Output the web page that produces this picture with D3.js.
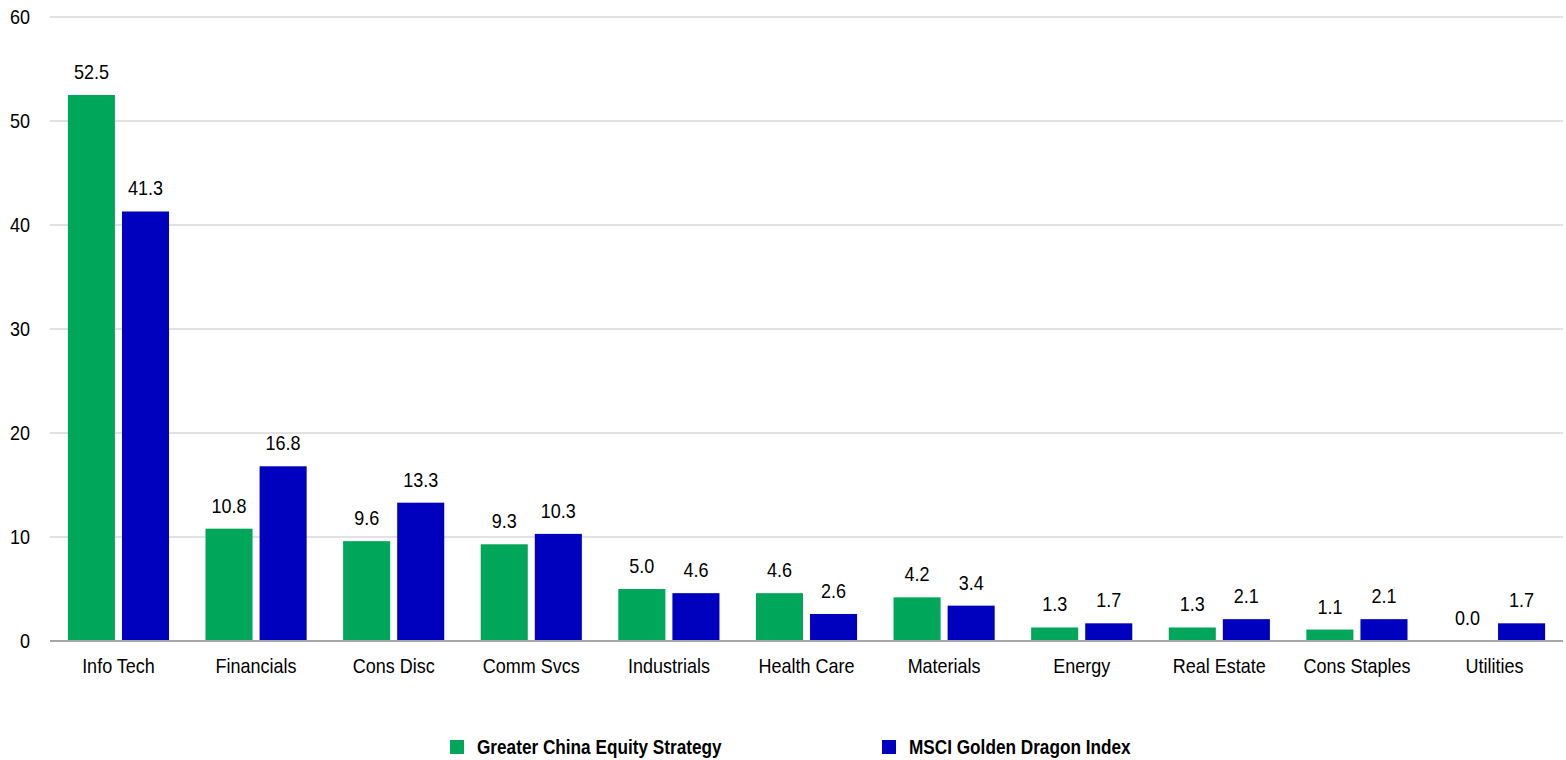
<!DOCTYPE html>
<html>
<head>
<meta charset="utf-8">
<script src="https://cdn.jsdelivr.net/npm/d3@7"></script>
<style>
  body { margin: 0; background: #fff; }
  svg { display: block; font-family: "Liberation Sans Narrow", "Arial Narrow", "Liberation Sans", Arial, sans-serif; }
</style>
</head>
<body>
<div id="container"></div>
<script>
const categories = ["Info Tech", "Financials", "Cons Disc", "Comm Svcs", "Industrials", "Health Care",
    "Materials", "Energy", "Real Estate", "Cons Staples", "Utilities"];
const strategy = [52.5, 10.8, 9.6, 9.3, 5.0, 4.6, 4.2, 1.3, 1.3, 1.1, 0.0];
const benchmark = [41.3, 16.8, 13.3, 10.3, 4.6, 2.6, 3.4, 1.7, 2.1, 2.1, 1.7];
const seriesNames = ["Greater China Equity Strategy", "MSCI Golden Dragon Index"];
const yTicks = [0, 10, 20, 30, 40, 50, 60];

const colors = ["#00a65a", "#0000bf"];
const width = 1566, height = 760;
const margin = { left: 50, right: 3, top: 17, bottom: 119 };

// text is drawn slightly condensed (narrow font look)
const squeeze = 0.9;
const place = (px, py) => `translate(${px},${py}) scale(${squeeze},1)`;

const svg = d3.select("#container").append("svg")
    .attr("width", width)
    .attr("height", height);

const x = d3.scaleBand()
    .domain(categories)
    .range([margin.left, width - margin.right])
    .paddingInner(0.265)
    .paddingOuter(0.13);

const sub = d3.scaleBand()
    .domain([0, 1])
    .range([0, x.bandwidth()])
    .paddingInner(0.13);

const y = d3.scaleLinear()
    .domain([0, 60])
    .range([height - margin.bottom, margin.top]);

// gridlines
svg.append("g")
    .selectAll("line")
    .data(yTicks.filter(d => d > 0))
    .join("line")
    .attr("x1", margin.left)
    .attr("x2", width - margin.right)
    .attr("y1", d => y(d))
    .attr("y2", d => y(d))
    .attr("stroke", "#d9d9d9")
    .attr("stroke-width", 1.5);

// y tick labels
svg.append("g")
    .selectAll("text")
    .data(yTicks)
    .join("text")
    .attr("transform", d => place(30, y(d)))
    .attr("dy", "0.35em")
    .attr("text-anchor", "end")
    .attr("font-size", 20)
    .attr("fill", "#000")
    .text(d => d);

const rows = categories.map((c, i) => ({ cat: c, values: [strategy[i], benchmark[i]] }));

const groups = svg.append("g")
    .selectAll("g")
    .data(rows)
    .join("g")
    .attr("transform", d => `translate(${x(d.cat)},0)`);

groups.selectAll("rect")
    .data(d => d.values.map((v, k) => ({ v, k })))
    .join("rect")
    .attr("x", d => sub(d.k))
    .attr("width", sub.bandwidth())
    .attr("y", d => y(d.v))
    .attr("height", d => y(0) - y(d.v))
    .attr("fill", d => colors[d.k]);

groups.selectAll("text.val")
    .data(d => d.values.map((v, k) => ({ v, k })))
    .join("text")
    .attr("class", "val")
    .attr("transform", d => place(sub(d.k) + sub.bandwidth() / 2, y(d.v) - 16))
    .attr("text-anchor", "middle")
    .attr("font-size", 20)
    .attr("fill", "#000")
    .text(d => d.v.toFixed(1));

// zero line
svg.append("line")
    .attr("x1", margin.left)
    .attr("x2", width - margin.right)
    .attr("y1", y(0))
    .attr("y2", y(0))
    .attr("stroke", "#a6a6a6")
    .attr("stroke-width", 2);

// category labels
svg.append("g")
    .selectAll("text")
    .data(categories)
    .join("text")
    .attr("transform", d => place(x(d) + x.bandwidth() / 2, y(0) + 25))
    .attr("dy", "0.35em")
    .attr("text-anchor", "middle")
    .attr("font-size", 20)
    .attr("fill", "#000")
    .text(d => d);

// legend
const legendX = [450, 882];
const legend = svg.append("g")
    .selectAll("g")
    .data(seriesNames)
    .join("g")
    .attr("transform", (d, i) => `translate(${legendX[i]},747)`);

legend.append("rect")
    .attr("x", 0)
    .attr("y", -7)
    .attr("width", 14)
    .attr("height", 14)
    .attr("fill", (d, i) => colors[i]);

legend.append("text")
    .attr("transform", "translate(27,0) scale(0.86,1)")
    .attr("dy", "0.35em")
    .attr("font-size", 20)
    .attr("font-weight", "bold")
    .attr("fill", "#000")
    .text(d => d);
</script>
</body>
</html>
